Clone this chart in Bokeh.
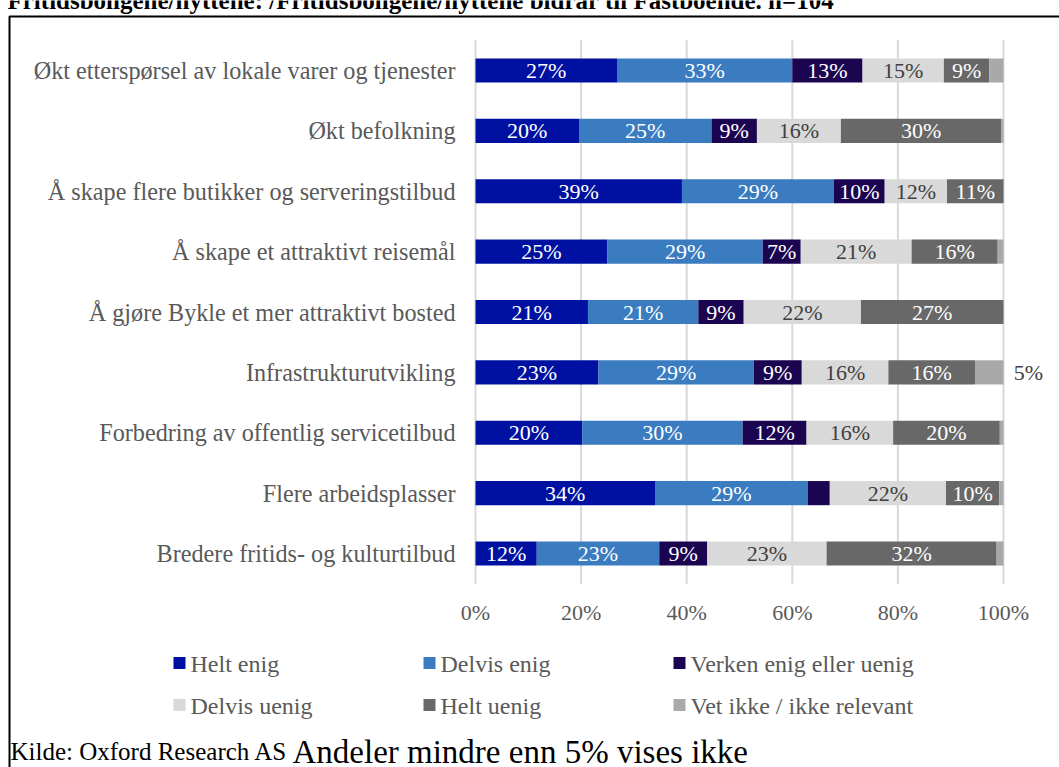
from bokeh.plotting import figure
from bokeh.models import Range1d, ColumnDataSource, Label, BoxAnnotation
from bokeh.core.properties import value
from bokeh.embed import file_html
from bokeh.resources import INLINE

# ---------------- data ----------------
categories = [
    "Økt etterspørsel av lokale varer og tjenester",
    "Økt befolkning",
    "Å skape flere butikker og serveringstilbud",
    "Å skape et attraktivt reisemål",
    "Å gjøre Bykle et mer attraktivt bosted",
    "Infrastrukturutvikling",
    "Forbedring av offentlig servicetilbud",
    "Flere arbeidsplasser",
    "Bredere fritids- og kulturtilbud",
]
series_names = ["Helt enig", "Delvis enig", "Verken enig eller uenig",
                "Delvis uenig", "Helt uenig", "Vet ikke / ikke relevant"]
helt_enig = [26.8, 19.6, 39.1, 25.0, 21.3, 23.3, 20.2, 34.0, 11.6]
delvis_enig = [33.2, 25.1, 28.8, 29.4, 20.9, 29.4, 30.4, 28.9, 23.2]
verken = [13.3, 8.6, 9.6, 7.2, 8.6, 9.1, 12.1, 4.2, 9.1]
delvis_uenig = [15.4, 15.9, 11.8, 21.0, 22.2, 16.4, 16.4, 22.0, 22.6]
helt_uenig = [8.6, 30.4, 10.7, 16.3, 27.0, 16.4, 20.2, 10.1, 32.2]
vet_ikke = [2.7, 0.4, 0.0, 1.1, 0.0, 5.4, 0.7, 0.8, 1.3]
tick_values = [0, 20, 40, 60, 80, 100]
tick_labels = [f"{t}%" for t in tick_values]

title_text = "Fritidsboligene/hyttene: /Fritidsboligene/hyttene bidrar til Fastboende. n=104"
source_text = "Kilde: Oxford Research AS"
note_text = "Andeler mindre enn 5% vises ikke"

# ---------------- styles / layout ----------------
colors = ["#0010A0", "#3A7CBF", "#1B0551", "#D9D9D9", "#686868", "#A9A9A9"]
label_colors = ["#FFFFFF", "#FFFFFF", "#FFFFFF", "#404040", "#FFFFFF", "#404040"]
FONT = "Liberation Serif"
GRAY = "#595959"

W, H = 1059, 767
ZERO_PX, PX_PER_PCT = 475.0, 5.28          # x = 0% at 475 px, 100% at 1003 px
ROW0_PX, ROW_PITCH = 70.0, 60.375          # first bar centre, bar pitch

x_range = Range1d(-ZERO_PX / PX_PER_PCT, (W - ZERO_PX) / PX_PER_PCT)
y_range = Range1d((H - ROW0_PX) / ROW_PITCH, -ROW0_PX / ROW_PITCH)

p = figure(width=W, height=H, output_backend="svg", toolbar_location=None,
           x_range=x_range, y_range=y_range, x_axis_type=None, y_axis_type=None,
           min_border=0)
p.outline_line_color = None
p.grid.visible = False
p.background_fill_color = "white"
p.border_fill_color = "white"

n = len(categories)
rows = list(range(n))

# vertical gridlines across the category band
p.segment(x0=tick_values, x1=tick_values, y0=[-0.5] * len(tick_values),
          y1=[n - 0.5] * len(tick_values), line_color="#D9D9D9", line_width=2)

# x tick labels
p.text(x=tick_values, y=[n - 0.5] * len(tick_values), text=tick_labels,
       y_offset=29, text_align="center", text_baseline="middle",
       text_font=value(FONT), text_font_size=value("22px"), text_color=GRAY)

# category labels
p.text(x=[0] * n, y=rows, text=categories, x_offset=-20,
       text_align="right", text_baseline="middle",
       text_font=value(FONT), text_font_size=value("24.2px"), text_color=GRAY)

# ---------------- bars ----------------
all_series = [helt_enig, delvis_enig, verken, delvis_uenig, helt_uenig, vet_ikke]
left = [0.0] * n
lab_x, lab_y, lab_t, lab_c = [], [], [], []
for si, vals in enumerate(all_series):
    right = [l + v for l, v in zip(left, vals)]
    src = ColumnDataSource(dict(y=rows, left=left, right=right))
    p.hbar(y="y", left="left", right="right", height=0.4, source=src,
           fill_color=colors[si], line_color=None)
    for ci, v in enumerate(vals):
        if v >= 5:
            if si == len(all_series) - 1:
                lab_x.append(right[ci] + 4.7)
            else:
                lab_x.append((left[ci] + right[ci]) / 2)
            lab_y.append(rows[ci])
            lab_t.append(f"{round(v)}%")
            lab_c.append(label_colors[si])
    left = right

lsrc = ColumnDataSource(dict(x=lab_x, y=lab_y, t=lab_t, c=lab_c))
p.text(x="x", y="y", text="t", text_color="c", source=lsrc,
       text_align="center", text_baseline="middle",
       text_font=value(FONT), text_font_size=value("22px"))


# ---------------- helpers: canvas px (from top-left) -> screen units ----------------
def sx(cx):
    return cx


def sy(cy):
    return H - cy


def box(l, r, t, b, **kw):
    return BoxAnnotation(left=sx(l), right=sx(r), top=sy(t), bottom=sy(b),
                         left_units="screen", right_units="screen",
                         top_units="screen", bottom_units="screen", **kw)


# ---------------- legend ----------------
leg_cols = [173, 423, 673]
leg_rows = [662.5, 704.5]
for i, name in enumerate(series_names):
    cx = leg_cols[i % 3]
    cy = leg_rows[i // 3]
    p.add_layout(box(cx, cx + 12, cy - 6, cy + 6, fill_color=colors[i],
                     fill_alpha=1.0, line_color=None))
    p.add_layout(Label(x=sx(cx + 17), y=sy(cy + 1), x_units="screen", y_units="screen",
                       text=name, text_font=FONT, text_font_size="24px",
                       text_color=GRAY, text_baseline="middle", text_align="left"))

# ---------------- document frame, title, footer ----------------
p.add_layout(box(9, 1200, 16, 900, fill_alpha=0, line_color="black",
                 line_alpha=1.0, line_width=2))
p.add_layout(Label(x=sx(7), y=sy(0), x_units="screen", y_units="screen",
                   text=title_text, text_font=FONT, text_font_size="25px",
                   text_font_style="bold", text_color="black",
                   text_baseline="alphabetic"))
p.add_layout(Label(x=sx(10), y=sy(751), x_units="screen", y_units="screen",
                   text=source_text, text_font=FONT, text_font_size="25px",
                   text_color="black", text_baseline="alphabetic"))
p.add_layout(Label(x=sx(292), y=sy(751), x_units="screen", y_units="screen",
                   text=note_text, text_font=FONT, text_font_size="33px",
                   text_color="black", text_baseline="alphabetic"))

open("out.html", "w").write(file_html(p, INLINE))
